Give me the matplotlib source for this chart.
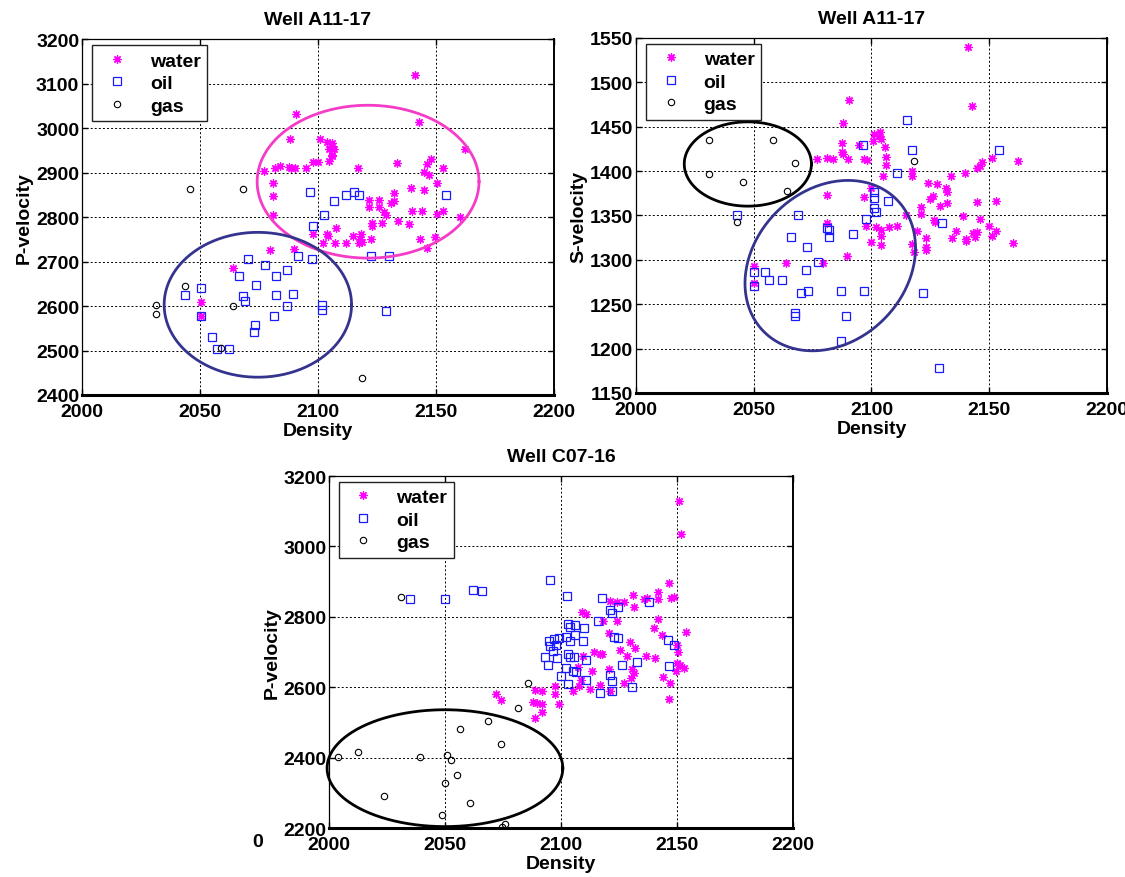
import numpy as np
import matplotlib.pyplot as plt

plt.rcParams['font.family'] = ['Liberation Sans', 'DejaVu Sans']
plt.rcParams['font.weight'] = 'bold'

# ---- Well A11-17, density vs P-velocity ----
a_water_rho = [2090.7, 2142.6, 2088, 2101, 2104, 2106, 2106, 2104.6, 2106.7, 2106, 2106,
               2104.5, 2162.4, 2148, 2146, 2133.5, 2077.3, 2081.8, 2084, 2087.5, 2088.6,
               2090.3, 2095, 2097.7, 2100, 2117, 2145, 2147, 2153, 2081, 2150.4, 2081,
               2139.5, 2144.8, 2132, 2121.4, 2126, 2121.4, 2132, 2131, 2126, 2127.8, 2129,
               2139.8, 2144, 2152.8, 2150.4, 2160, 2081, 2122.8, 2123, 2127, 2134, 2138.4,
               2107.7, 2097.7, 2103.7, 2104.4, 2114.8, 2118.3, 2117.6, 2118.6, 2122.6,
               2143.4, 2149.7, 2102.3, 2107.3, 2111.8, 2117.2, 2146, 2079.7, 2089.9,
               2063.9, 2050.3, 2050.3, 2141]
a_water_vp = [3032, 3015, 2976, 2976, 2970, 2968, 2961, 2954, 2954, 2940, 2938,
              2926, 2953, 2932, 2920, 2921, 2903, 2911, 2916, 2912, 2910,
              2910, 2910, 2925, 2925, 2911, 2902, 2895, 2910, 2878, 2876, 2847,
              2866, 2861, 2854, 2839, 2839, 2824, 2837, 2831, 2822, 2811, 2806,
              2815, 2815, 2814, 2807, 2801, 2806, 2787, 2781, 2786, 2792, 2785,
              2776, 2762, 2762, 2758, 2758, 2763, 2751, 2745, 2751,
              2751, 2756, 2741, 2741, 2742, 2741, 2730, 2726, 2728,
              2685, 2610, 2577, 3120]
a_oil_rho = [2096.7, 2111.8, 2115.3, 2117.2, 2106.9, 2154.2, 2102.6, 2097.8, 2122.6, 2130.2,
             2091.7, 2097.4, 2070.4, 2077.7, 2087, 2066.5, 2082.4, 2073.9, 2050.6, 2043.6,
             2089.2, 2082.4, 2068, 2069, 2087, 2101.6, 2101.6, 2081.3, 2050.4, 2129,
             2073.2, 2072.8, 2055.2, 2057.1, 2062.4]
a_oil_vp = [2856, 2851, 2856, 2851, 2836, 2851, 2805, 2781, 2712, 2712,
            2712, 2705, 2705, 2693, 2681, 2668, 2668, 2648, 2640, 2625,
            2627, 2624, 2622, 2611, 2601, 2603, 2592, 2578, 2578, 2590,
            2557, 2541, 2531, 2503, 2503]
a_gas_rho = [2045.8, 2068, 2043.6, 2031.3, 2031.3, 2064.1, 2058.9, 2118.5]
a_gas_vp = [2863, 2863, 2645, 2602, 2582, 2601, 2505, 2438]

# ---- Well A11-17, density vs S-velocity ----
b_water_rho = [2141, 2090.5, 2142.6, 2087.7, 2103.6, 2103, 2101, 2104, 2100.6, 2087.6,
               2094.7, 2105.8, 2087.6, 2088, 2077, 2081, 2083.6, 2090, 2097, 2098,
               2106, 2106, 2105, 2117, 2117, 2151, 2147, 2146, 2145, 2162,
               2139.5, 2133.6, 2124, 2128, 2131.7, 2132, 2126, 2125, 2132, 2144.7,
               2153, 2081, 2097, 2099.6, 2121, 2129, 2121, 2139, 2114.6, 2126.6,
               2127, 2146, 2150, 2153, 2136, 2134, 2140, 2140, 2143, 2145,
               2144, 2151, 2160, 2119.5, 2123, 2123, 2123, 2117, 2118, 2102,
               2107.5, 2111, 2104, 2104, 2104, 2099.6, 2097.6, 2081, 2089.5, 2079.4,
               2063.6, 2050, 2050]
b_water_vs = [1540, 1480, 1473, 1454, 1444, 1440, 1442, 1436, 1434, 1432,
              1429, 1427, 1421, 1419, 1414, 1415, 1414, 1414, 1414, 1413,
              1416, 1407, 1395, 1400, 1394, 1415, 1410, 1406, 1404, 1411,
              1398, 1394, 1387, 1386, 1381, 1377, 1372, 1369, 1364, 1365,
              1366, 1373, 1371, 1381, 1360, 1360.5, 1352, 1349, 1351, 1345,
              1343, 1346, 1338, 1333, 1332.5, 1325, 1323.5, 1321, 1330, 1331,
              1326, 1327, 1319, 1333, 1325, 1315, 1311, 1318, 1309, 1337,
              1337, 1338, 1333.6, 1327, 1317, 1320.5, 1338, 1341, 1304, 1297,
              1296, 1292.5, 1274]
b_oil_rho = [2115, 2096.6, 2117, 2154, 2111, 2101, 2101, 2107, 2101, 2102,
             2097.6, 2043, 2068.6, 2130, 2081, 2082, 2082, 2092, 2066, 2072.6,
             2077.5, 2072, 2050, 2054.6, 2056.5, 2062, 2050, 2070, 2073, 2087,
             2097, 2122, 2067.5, 2067.5, 2089, 2087, 2128.7]
b_oil_vs = [1458, 1429, 1424, 1424, 1398, 1376.5, 1370, 1366, 1358, 1354,
            1345.5, 1351, 1351, 1341, 1335.5, 1334, 1326, 1329, 1326, 1314,
            1298, 1289, 1286, 1286, 1277.6, 1277.6, 1270, 1263, 1264.6, 1265,
            1265, 1263, 1240, 1236.6, 1237, 1209, 1178]
b_gas_rho = [2030.8, 2058, 2067.6, 2030.8, 2045.4, 2064, 2043, 2118]
b_gas_vs = [1435, 1435, 1408.6, 1397, 1388, 1378, 1343, 1411]

# ---- Well C07-16, density vs P-velocity ----
c_water_rho = [2151, 2151.6, 2146.7, 2142, 2147.6, 2148.6, 2131, 2135.7, 2137, 2141.7,
               2127.3, 2121, 2124, 2131.6, 2109, 2111, 2124, 2118, 2142, 2140,
               2143.6, 2120.6, 2154, 2129.6, 2125.6, 2132, 2150, 2150.5, 2114.4, 2116.7,
               2117.7, 2109.5, 2128.5, 2136.7, 2140.7, 2150, 2151.5, 2153, 2149.6, 2120.9,
               2130.6, 2131.3, 2130, 2144, 2107.4, 2113.4, 2108.8, 2112.4, 2107.7, 2105,
               2097.4, 2092, 2088.7, 2097.6, 2099, 2088, 2089.8, 2092, 2092, 2089,
               2071.8, 2074, 2127, 2147, 2146.7, 2116.7, 2121.3]
c_water_vp = [3128, 3036, 2897, 2871, 2854, 2857, 2863, 2852, 2854, 2850,
              2841.6, 2846, 2842.5, 2826.5, 2814, 2807.6, 2787.7, 2787.7, 2794, 2769,
              2748, 2754.6, 2757.5, 2729, 2707, 2712, 2719.6, 2699, 2700.7, 2693,
              2695, 2690, 2687.5, 2690, 2683.7, 2668.6, 2663, 2654.4, 2645, 2651.5,
              2651.5, 2640, 2625, 2629, 2657, 2645, 2619.4, 2595, 2604, 2588,
              2602.4, 2588, 2593, 2580.6, 2551.3, 2557, 2555, 2552, 2530.5, 2511.6,
              2580.6, 2563.6, 2612, 2612, 2566.4, 2606, 2589]
c_oil_rho = [2095.2, 2035, 2049.9, 2062, 2065.8, 2102.7, 2117.7, 2138, 2124.7, 2121,
             2122, 2116, 2102.9, 2106, 2104, 2110, 2102, 2106, 2097, 2099,
             2095, 2104, 2109.5, 2122.7, 2124.6, 2146, 2148.6, 2095.5, 2098, 2096.6,
             2093, 2098.5, 2103, 2104, 2105.5, 2111, 2094.5, 2126.3, 2133, 2146.8,
             2102, 2105, 2106.7, 2100, 2111, 2121, 2122, 2103, 2130.6, 2116.7, 2122]
c_oil_vp = [2905, 2852, 2852, 2876, 2872, 2858, 2854, 2841, 2829, 2820,
            2812, 2787, 2779, 2777, 2770, 2768, 2744, 2748, 2737, 2739,
            2730, 2730, 2731, 2744, 2741, 2733, 2720, 2716, 2720, 2703.5,
            2686.5, 2683, 2694, 2685.6, 2684.6, 2677, 2664, 2664, 2671.6, 2661,
            2653.5, 2645, 2642, 2632, 2621, 2633.6, 2616.6, 2608, 2601.4, 2582.5, 2589]
c_gas_rho = [2030.9, 2085.7, 2081.3, 2068.5, 2056.6, 2074, 2012.4, 2004, 2039.2,
             2051.1, 2052.4, 2055, 2049.9, 2023.9, 2061, 2048.7, 2075.8, 2074.8]
c_gas_vp = [2856.7, 2611.8, 2541, 2503, 2480, 2439.7, 2417, 2401, 2401,
            2406.6, 2392.4, 2350.8, 2328, 2291, 2271.4, 2238.3, 2210, 2204]

# cluster outlines: centre x, centre y, half width, half height, tilt phase (deg), colour
a_outlines = [(2121.2, 2880, 47, 172, 90, '#f53cc8'),
              (2074.5, 2603, 39.7, 163, 90, '#34348f')]
b_outlines = [(2047.5, 1408, 27, 47.5, 90, 'black'),
              (2082.5, 1293.5, 36.2, 96, 78, '#34348f')]
c_outlines = [(2050, 2370, 50.8, 166, 90, 'black')]

fig = plt.figure(figsize=(11.25, 8.78), dpi=100)
ax1 = fig.add_axes([0.0729, 0.549, 0.4196, 0.4049])
ax2 = fig.add_axes([0.5653, 0.5513, 0.4187, 0.4043])
ax3 = fig.add_axes([0.2924, 0.0558, 0.4124, 0.4009])


def scatter3(ax, wx, wy, ox, oy, gx, gy):
    ax.plot(wx, wy, linestyle='none', marker=(8, 2, 0), markersize=6,
            markeredgewidth=0.9, color='#ff00ff', label='water')
    ax.plot(ox, oy, linestyle='none', marker='s', markersize=5.2,
            markerfacecolor='none', markeredgewidth=0.9, color='#1a1aff', label='oil')
    ax.plot(gx, gy, linestyle='none', marker='o', markersize=4.6,
            markerfacecolor='none', markeredgewidth=0.8, color='black', label='gas')


def outline(ax, cx, cy, rx, ry, phase, col):
    t = np.linspace(0, 2 * np.pi, 300)
    ax.plot(cx + rx * np.cos(t), cy + ry * np.cos(t - np.radians(phase)),
            color=col, lw=2.0, zorder=4, clip_on=False)


def dress(ax, ylo, yhi, ystep, ylabel, title):
    ax.set_xlim(2000, 2200)
    ax.set_ylim(ylo, yhi)
    ax.set_xticks(np.arange(2000, 2201, 50))
    ax.set_yticks(np.arange(ylo, yhi + 1, ystep))
    ax.grid(True, color='black', linestyle=(0, (2, 2.2)), linewidth=0.7)
    ax.set_axisbelow(True)
    ax.tick_params(direction='in', length=4, width=1, top=True, right=True,
                   labelsize=14)
    ax.tick_params(axis='x', pad=6)
    ax.tick_params(axis='y', pad=2)
    for lab in ax.get_xticklabels() + ax.get_yticklabels():
        lab.set_fontweight('bold')
    ax.spines['bottom'].set_linewidth(2.2)
    ax.spines['right'].set_linewidth(1.4)
    ax.spines['left'].set_linewidth(0.9)
    ax.spines['top'].set_linewidth(0.9)
    ax.set_xlabel('Density', fontsize=14, fontweight='bold', labelpad=1)
    ax.set_ylabel(ylabel, fontsize=14, fontweight='bold', labelpad=2)
    ax.set_title(title, fontsize=14, fontweight='bold', pad=11)
    leg = ax.legend(loc='upper left', bbox_to_anchor=(0.022, 0.984), borderaxespad=0,
                    fancybox=False, framealpha=1, edgecolor='#222222',
                    prop={'size': 14, 'weight': 'bold'}, handlelength=1.8,
                    handletextpad=0.8, labelspacing=0.25, borderpad=0.35,
                    markerscale=1.0)
    leg.get_frame().set_linewidth(1.0)
    leg.set_zorder(6)


scatter3(ax1, a_water_rho, a_water_vp, a_oil_rho, a_oil_vp, a_gas_rho, a_gas_vp)
for o in a_outlines:
    outline(ax1, *o)
dress(ax1, 2400, 3200, 100, 'P-velocity', 'Well A11-17')

scatter3(ax2, b_water_rho, b_water_vs, b_oil_rho, b_oil_vs, b_gas_rho, b_gas_vs)
for o in b_outlines:
    outline(ax2, *o)
dress(ax2, 1150, 1550, 50, 'S-velocity', 'Well A11-17')

scatter3(ax3, c_water_rho, c_water_vp, c_oil_rho, c_oil_vp, c_gas_rho, c_gas_vp)
for o in c_outlines:
    outline(ax3, *o)
dress(ax3, 2200, 3200, 200, 'P-velocity', 'Well C07-16')

fig.text(0.2293, 0.0399, '0', fontsize=14, fontweight='bold', ha='center', va='center')

fig.savefig('out.png', dpi=100)
